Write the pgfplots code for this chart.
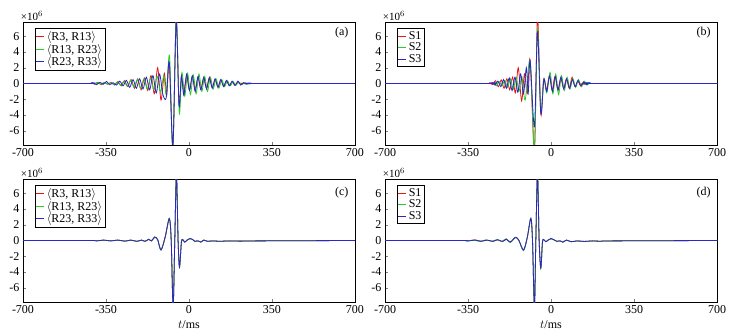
\documentclass[border=0pt]{standalone}
\usepackage{pgfplots}
\pgfplotsset{compat=1.18}
\usepackage{fontspec}
\setmainfont{Liberation Serif}
\pgfplotsset{
 panel/.style={
  scale only axis, width=332pt, height=123pt, anchor=south west,
  xmin=-700,xmax=700,ymin=-7.8,ymax=7.8,
  xtick={-700,-350,0,350,700}, ytick={-6,-4,-2,0,2,4,6},
  tick align=inside, tick pos=left, major tick length=3pt,
  tick label style={font=\fontsize{12}{13}\selectfont},
  xticklabel={\pgfmathprintnumber[assume math mode=true]{\tick}},
  yticklabel={\pgfmathprintnumber[assume math mode=true]{\tick}},
  clip mode=individual,
  axis line style={line width=0.7pt},
  legend style={at={(0.035,0.95)},anchor=north west, draw=black, line width=0.7pt,
    font=\fontsize{12}{12}\selectfont, inner sep=1pt, row sep=-2pt, cells={anchor=west}},
  legend image code/.code={\draw[#1] (0pt,0pt) -- (8pt,0pt);},
  xlabel style={font=\fontsize{12}{13}\selectfont},
 },
 pr/.style={draw={rgb,255:red,235;green,20;blue,20}, line width=0.8pt, smooth, mark=none},
 pg/.style={draw={rgb,255:red,40;green,205;blue,40}, line width=0.8pt, smooth, mark=none},
 pb/.style={draw={rgb,255:red,40;green,40;blue,200}, line width=0.8pt, smooth, mark=none},
}
\newcommand{\tenpow}{\node[anchor=south west,inner sep=1pt,font=\fontsize{11}{12}\selectfont] at (rel axis cs:-0.01,1) {×10$^{6}$};}
\begin{document}
\begin{tikzpicture}
\useasboundingbox (0,0) rectangle (746pt,335pt);
% ---------------- (a)
\begin{axis}[panel, at={(23pt,190pt)}]
\addplot[pr] coordinates {(-700,0)(-430,0)(-412,0.1)(-398,-0.1)(-384,0.15)(-370,-0.15)(-356,0.1)(-342,-0.1)(-328,0.15)(-314,-0.2)(-300,0.25)(-286,-0.3)(-272,0.35)(-258,-0.4)(-244,0.5)(-230,-0.6)(-216,0.6)(-202,-0.8)(-188,0.7)(-174,-0.9)(-160,1.0)(-146,-1.3)(-132,2.0)(-118,-2.1)(-104,1.3)(-94,-1.5)(-83,2.6)(-68,-7.9)(-54,8.2)(-42,-2.6)(-32,0.8)(-22,-1.0)(-10,0.9)(2,-0.8)(14,0.8)(26,-0.7)(38,0.7)(50,-0.7)(62,0.6)(74,-0.6)(86,0.8)(98,-0.5)(110,0.5)(122,-0.4)(134,0.4)(146,-0.3)(158,0.3)(170,-0.25)(182,0.2)(194,-0.2)(206,0.15)(218,-0.1)(232,0.05)(250,0)(700,0)};
\addlegendentry{$\langle$R3, R13$\rangle$}
\addplot[pg] coordinates {(-700,0)(-400,0)(-386,0.1)(-372,-0.1)(-358,0.15)(-344,-0.1)(-330,0.1)(-316,-0.15)(-302,0.2)(-288,-0.25)(-274,0.3)(-260,-0.35)(-246,0.4)(-232,-0.45)(-218,0.5)(-204,-0.6)(-190,0.6)(-176,-0.7)(-162,0.7)(-148,-0.8)(-134,0.9)(-120,-1.1)(-106,1.0)(-96,-1.4)(-82,3.5)(-68,-8.5)(-54,8.5)(-41,-3.8)(-30,1.4)(-18,-1.6)(-6,1.3)(6,-1.4)(18,1.1)(30,-1.3)(42,1.2)(54,-1.0)(66,0.9)(78,-1.0)(90,0.8)(102,-0.7)(114,0.6)(126,-0.6)(138,0.5)(150,-0.4)(162,0.35)(174,-0.3)(186,0.25)(198,-0.2)(210,0.2)(222,-0.15)(236,0.1)(250,-0.05)(266,0)(700,0)};
\addlegendentry{$\langle$R13, R23$\rangle$}
\addplot[pb] coordinates {(-700,0)(-420,0)(-405,0.1)(-390,-0.15)(-375,0.15)(-362,-0.1)(-348,0.25)(-334,-0.15)(-320,0.1)(-306,-0.2)(-292,0.3)(-278,-0.3)(-264,0.4)(-250,-0.5)(-236,0.5)(-222,-0.6)(-208,0.6)(-194,-0.7)(-180,0.8)(-166,-0.8)(-152,1.0)(-138,-1.2)(-124,1.2)(-110,-1.4)(-96,-1.8)(-83,2.7)(-68,-7.9)(-54,7.9)(-42,-2.8)(-32,1.0)(-22,-1.5)(-10,1.2)(2,-0.9)(14,1.0)(26,-1.0)(38,0.9)(50,-0.8)(62,0.8)(74,-0.7)(86,0.7)(98,-0.6)(110,0.6)(122,-0.5)(134,0.5)(146,-0.4)(158,0.4)(170,-0.3)(182,0.3)(194,-0.25)(206,0.3)(218,-0.2)(230,0.1)(242,-0.1)(254,0.05)(270,0)(700,0)};
\addlegendentry{$\langle$R23, R33$\rangle$}
\node[font=\fontsize{12}{13}\selectfont] at (rel axis cs:0.96,0.91) {(a)};
\tenpow
\end{axis}
% ---------------- (b)
\begin{axis}[panel, at={(385pt,190pt)}]
\addplot[pr] coordinates {(-700,0)(-270,0)(-258,0.1)(-246,-0.15)(-234,0.35)(-222,-0.4)(-210,0.45)(-198,-0.6)(-186,0.6)(-174,-0.8)(-162,0.8)(-150,-1.2)(-138,2.0)(-124,-2.2)(-112,1.2)(-100,-1.3)(-88,3.0)(-70,-8.5)(-57,8.5)(-43,-3.9)(-31,0.6)(-19,-0.8)(-7,0.9)(5,-0.8)(17,0.9)(29,-0.9)(41,0.7)(53,-0.6)(65,0.6)(77,-0.6)(89,0.8)(101,-0.4)(113,0.3)(125,-0.3)(137,0.2)(150,-0.1)(165,0)(700,0)};
\addlegendentry{S1}
\addplot[pg] coordinates {(-700,0)(-255,0)(-243,0.1)(-231,-0.3)(-219,0.25)(-207,-0.3)(-195,0.4)(-183,-0.5)(-171,0.6)(-159,-0.7)(-147,0.8)(-135,-1.0)(-123,0.9)(-109,-2.1)(-88,2.9)(-70,-8.5)(-57,7.0)(-43,-3.5)(-30,0.6)(-18,-1.2)(-4,1.4)(8,-1.3)(20,1.2)(32,-1.4)(44,1.0)(56,-0.9)(68,0.8)(80,-0.7)(92,0.6)(104,-0.5)(116,0.5)(128,-0.4)(140,0.3)(152,-0.2)(164,0.1)(180,0)(700,0)};
\addlegendentry{S2}
\addplot[pb] coordinates {(-700,0)(-260,0)(-248,0.1)(-236,-0.2)(-224,0.3)(-212,-0.4)(-200,0.5)(-188,-0.6)(-176,0.7)(-164,-0.9)(-152,0.8)(-140,-1.1)(-128,1.2)(-116,-1.3)(-104,2.0)(-96,-1.2)(-88,2.9)(-70,-5.5)(-57,6.5)(-43,-3.8)(-30,0.5)(-18,-1.0)(-6,1.0)(6,-1.0)(18,0.9)(30,-0.8)(42,0.8)(54,-0.7)(66,0.6)(78,-0.6)(90,0.5)(102,-0.4)(114,0.4)(126,-0.3)(138,0.2)(150,-0.15)(162,0.1)(175,0)(700,0)};
\addlegendentry{S3}
\node[font=\fontsize{12}{13}\selectfont] at (rel axis cs:0.96,0.91) {(b)};
\tenpow
\end{axis}
% ---------------- (c)
\begin{axis}[panel, at={(23pt,33pt)}, xlabel={$t$/ms}]
\addplot[pr] coordinates {(-700,0)(-420,0)(-390,-0.05)(-360,0.05)(-330,-0.05)(-300,0.05)(-270,-0.08)(-245,0.05)(-220,-0.12)(-200,0.05)(-185,-0.12)(-170,0.15)(-158,-0.05)(-145,0.4)(-132,0.1)(-118,-1.2)(-100,0.5)(-83,2.7)(-75,0)(-67,-8.5)(-60,0)(-53,8.5)(-46,0)(-40,-3.3)(-32,-0.2)(-26,0.1)(-18,-0.2)(-8,0.05)(4,0.25)(14,0.15)(24,-0.1)(38,-0.05)(50,-0.2)(62,0.05)(78,-0.1)(100,-0.05)(130,-0.1)(170,-0.05)(220,-0.08)(280,-0.05)(700,0)};
\addlegendentry{$\langle$R3, R13$\rangle$}
\addplot[pg] coordinates {(-700,0)(-420,0)(-390,-0.05)(-360,0.05)(-330,-0.05)(-300,0.05)(-270,-0.08)(-245,0.05)(-220,-0.1)(-200,0.05)(-185,-0.1)(-170,0.15)(-158,-0.05)(-145,0.45)(-132,0.1)(-118,-1.2)(-100,0.5)(-83,2.8)(-75,0)(-67,-8.5)(-60,0)(-53,8.5)(-46,0)(-40,-3.4)(-32,-0.2)(-26,0.1)(-18,-0.2)(-8,0.05)(4,0.25)(14,0.15)(24,-0.1)(38,-0.05)(50,-0.2)(62,0.05)(78,-0.1)(100,-0.05)(130,-0.1)(170,-0.05)(220,-0.08)(280,-0.05)(700,0)};
\addlegendentry{$\langle$R13, R23$\rangle$}
\addplot[pb] coordinates {(-700,0)(-420,0)(-390,-0.05)(-360,0.05)(-330,-0.05)(-300,0.05)(-270,-0.08)(-245,0.05)(-220,-0.1)(-200,0.05)(-185,-0.1)(-170,0.15)(-158,-0.05)(-145,0.45)(-132,0.1)(-118,-1.2)(-100,0.5)(-83,2.8)(-75,0)(-67,-8.5)(-60,0)(-53,8.5)(-46,0)(-40,-3.4)(-32,-0.2)(-26,0.1)(-18,-0.2)(-8,0.05)(4,0.25)(14,0.15)(24,-0.1)(38,-0.05)(50,-0.2)(62,0.05)(78,-0.1)(100,-0.05)(130,-0.1)(170,-0.05)(220,-0.08)(280,-0.05)(700,0)};
\addlegendentry{$\langle$R23, R33$\rangle$}
\node[font=\fontsize{12}{13}\selectfont] at (rel axis cs:0.96,0.89) {(c)};
\tenpow
\end{axis}
% ---------------- (d)
\begin{axis}[panel, at={(385pt,33pt)}, xlabel={$t$/ms}]
\addplot[pr] coordinates {(-700,0)(-380,0)(-350,-0.05)(-320,0.08)(-295,-0.1)(-270,0.05)(-245,-0.12)(-225,0.1)(-205,-0.15)(-188,0.2)(-172,-0.2)(-150,0.4)(-136,0.05)(-116,-1.2)(-100,0.4)(-85,2.8)(-78,0)(-70,-8.5)(-64,0)(-57,8.5)(-50,0)(-43,-3.5)(-36,-0.2)(-30,0.1)(-22,-0.15)(-12,0.05)(0,0.25)(12,0.1)(24,-0.1)(38,-0.05)(50,-0.2)(65,0.05)(85,-0.15)(110,-0.05)(140,-0.12)(175,-0.05)(210,-0.1)(260,-0.05)(700,0)};
\addlegendentry{S1}
\addplot[pg] coordinates {(-700,0)(-380,0)(-355,-0.08)(-325,0.05)(-300,-0.12)(-275,0.08)(-250,-0.1)(-228,0.12)(-208,-0.12)(-190,0.2)(-172,-0.25)(-150,0.35)(-136,0.05)(-116,-1.3)(-100,0.4)(-85,2.8)(-78,0)(-70,-8.5)(-64,0)(-57,8.5)(-50,0)(-43,-3.5)(-36,-0.2)(-30,0.1)(-22,-0.15)(-12,0.05)(0,0.25)(12,0.1)(24,-0.1)(38,-0.05)(50,-0.2)(65,0.05)(85,-0.15)(110,-0.05)(140,-0.12)(175,-0.05)(210,-0.1)(260,-0.05)(700,0)};
\addlegendentry{S2}
\addplot[pb] coordinates {(-700,0)(-380,0)(-350,-0.05)(-320,0.05)(-295,-0.1)(-270,0.05)(-245,-0.1)(-225,0.1)(-205,-0.12)(-188,0.15)(-172,-0.2)(-150,0.4)(-136,0.05)(-116,-1.2)(-100,0.4)(-85,2.8)(-78,0)(-70,-8.5)(-64,0)(-57,8.5)(-50,0)(-43,-3.5)(-36,-0.2)(-30,0.1)(-22,-0.15)(-12,0.05)(0,0.25)(12,0.1)(24,-0.1)(38,-0.05)(50,-0.2)(65,0.05)(85,-0.15)(110,-0.05)(140,-0.12)(175,-0.05)(210,-0.1)(260,-0.05)(700,0)};
\addlegendentry{S3}
\node[font=\fontsize{12}{13}\selectfont] at (rel axis cs:0.96,0.89) {(d)};
\tenpow
\end{axis}
\end{tikzpicture}
\end{document}
